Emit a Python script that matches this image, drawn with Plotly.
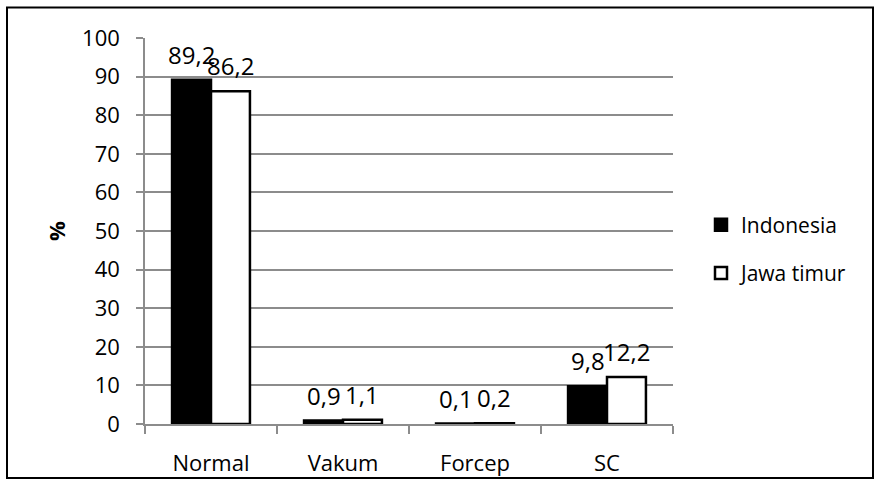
import plotly.graph_objects as go

categories = ["Normal", "Vakum", "Forcep", "SC"]
indonesia = [89.2, 0.9, 0.1, 9.8]
jawa_timur = [86.2, 1.1, 0.2, 12.2]
series_names = ["Indonesia", "Jawa timur"]
y_ticks = list(range(0, 101, 10))

FONT = "Open Sans"
W, H = 876, 489
L, R, T, B = 145, 203, 38, 58
pw = W - L - R
ph = H - T - B
BARGAP = 0.41

def px_x(p):
    return (p - L) / pw

def px_y(p):
    return (H - B - p) / ph

fig = go.Figure()
fig.add_trace(go.Bar(
    x=categories, y=indonesia, name=series_names[0], legendgroup="a",
    marker=dict(color="#000000", line=dict(color="#000000", width=2.5)),
))
fig.add_trace(go.Bar(
    x=categories, y=jawa_timur, name=series_names[1], legendgroup="b",
    marker=dict(color="#ffffff", line=dict(color="#000000", width=2.5)),
))

# value labels above each bar
cat_px = pw / len(categories)
bar_px = cat_px * (1 - BARGAP) / 2
for vals, sign in ((indonesia, -1), (jawa_timur, 1)):
    for c, v in zip(categories, vals):
        fig.add_annotation(
            x=c, y=v, xref="x", yref="y",
            text=f"{v:.1f}".replace(".", ","),
            showarrow=False, xanchor="center", yanchor="bottom",
            xshift=sign * bar_px / 2, yshift=7,
            font=dict(family=FONT, size=24, color="#000000"),
        )

fig.update_layout(
    width=W, height=H,
    margin=dict(l=L, r=R, t=T, b=B, pad=0),
    paper_bgcolor="#ffffff", plot_bgcolor="#ffffff",
    separators=",.",
    barmode="group", bargap=BARGAP, bargroupgap=0,
    font=dict(family=FONT, size=22, color="#000000"),
    showlegend=True,
    legend=dict(
        x=px_x(701), xanchor="left", y=px_y(253), yanchor="middle",
        font=dict(family=FONT, size=21, color="#000000"),
        traceorder="grouped", tracegroupgap=18,
        bgcolor="rgba(0,0,0,0)", itemwidth=30,
    ),
)

fig.update_yaxes(
    range=[0, 100], tickvals=y_ticks, showgrid=True,
    gridcolor="#8c8c8c", gridwidth=1.5,
    showline=True, linecolor="#8c8c8c", linewidth=1.5,
    ticks="outside", ticklen=7, tickcolor="#8c8c8c", tickwidth=1.5,
    tickfont=dict(family=FONT, size=22, color="#000000"),
    ticklabelstandoff=12,
    zeroline=False,
    title=dict(text="<b>%</b>", font=dict(family=FONT, size=22, color="#000000"), standoff=10),
)
fig.update_xaxes(
    showline=True, linecolor="#8c8c8c", linewidth=1.5,
    ticks="outside", tickson="boundaries", ticklen=8, tickcolor="#8c8c8c", tickwidth=1.5,
    tickfont=dict(family=FONT, size=22, color="#000000"),
    ticklabelstandoff=19,
    showgrid=False,
)

fig.add_shape(
    type="rect", xref="paper", yref="paper",
    x0=px_x(7), x1=px_x(873), y0=px_y(486), y1=px_y(7),
    line=dict(color="#000000", width=2), fillcolor="rgba(0,0,0,0)", layer="above",
)

fig.write_html(
    "out.html",
    config={"displayModeBar": False},
    post_script="document.body.style.margin='0';document.body.style.padding='0';",
)
